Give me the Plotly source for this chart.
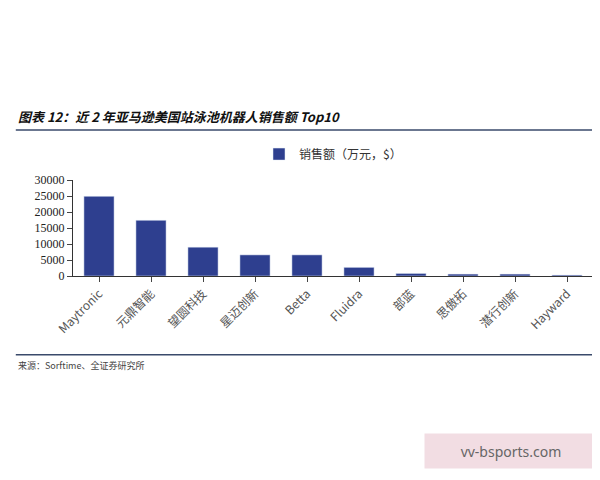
import plotly.graph_objects as go

brands = ["Maytronic", "元鼎智能", "望圆科技", "星迈创新", "Betta", "Fluidra", "部蓝", "思傲拓", "潜行创新", "Hayward"]
sales = [24900, 17400, 9000, 6600, 6600, 2700, 800, 600, 600, 300]
yticks = [0, 5000, 10000, 15000, 20000, 25000, 30000]

fig = go.Figure()
fig.add_trace(go.Bar(x=brands, y=sales, name="销售额（万元，$）",
                     marker=dict(color="#2E3F8F"), width=0.58))
fig.update_layout(
    width=600, height=480, plot_bgcolor="white", paper_bgcolor="white",
    margin=dict(l=65, r=15, t=172, b=212, autoexpand=False),
    showlegend=True,
    legend=dict(orientation="h", x=0.5, xanchor="center", y=1.27, yanchor="middle",
                itemwidth=30, font=dict(family="Noto Sans CJK SC", size=12, color="#333")),
    font=dict(family="Liberation Serif", size=12, color="#333"),
)
fig.update_xaxes(tickangle=-45, showline=True, linecolor="#333", ticks="outside",
                 tickfont=dict(family="Noto Sans CJK SC, Liberation Serif", size=12, color="#555"))
fig.update_yaxes(range=[0, 30000], tickvals=yticks, tickformat="d", showline=True, linecolor="#333",
                 ticks="outside", showgrid=False, zeroline=False,
                 tickfont=dict(family="Liberation Serif", size=12, color="#222"))
fig.add_annotation(text="<b><i>图表 12：近 2 年亚马逊美国站泳池机器人销售额 Top10</i></b>",
                   xref="paper", yref="paper", x=-0.11, y=1.66, xanchor="left", yanchor="middle",
                   showarrow=False, font=dict(family="Noto Sans CJK SC", size=13, color="#111"))
fig.add_shape(type="line", xref="paper", yref="paper", x0=-0.11, x1=1.01, y0=1.52, y1=1.52,
              line=dict(color="#3A4A6B", width=1.5))
fig.add_shape(type="line", xref="paper", yref="paper", x0=-0.11, x1=1.01, y0=-0.82, y1=-0.82,
              line=dict(color="#3A4A6B", width=1.5))
fig.add_annotation(text="来源：Sorftime、全证券研究所", xref="paper", yref="paper",
                   x=-0.11, y=-0.93, xanchor="left", yanchor="middle", showarrow=False,
                   font=dict(family="Noto Sans CJK SC", size=9, color="#444"))
fig.add_annotation(text="vv-bsports.com", xref="paper", yref="paper",
                   x=0.675, y=-1.82, xanchor="left", yanchor="middle", showarrow=False,
                   bgcolor="#F2DDE3", width=170, height=32,
                   font=dict(family="Noto Sans", size=14, color="#666"))
fig.write_html("out.html")
